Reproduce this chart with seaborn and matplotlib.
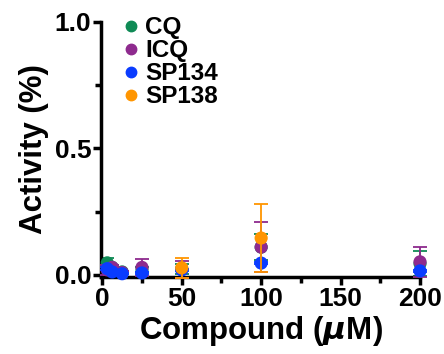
import numpy as np
import pandas as pd
import matplotlib
matplotlib.use("Agg")
import matplotlib.pyplot as plt
import seaborn as sns

conc = [3.125, 6.25, 12.5, 25, 50, 100, 200]
series_names = ["CQ", "ICQ", "SP134", "SP138"]
cq_mean = [0.048, 0.030, 0.012, 0.020, 0.025, 0.110, 0.045]
cq_err = [0.018, 0.010, 0.005, 0.010, 0.020, 0.050, 0.050]
icq_mean = [0.020, 0.030, 0.010, 0.030, 0.022, 0.110, 0.052]
icq_err = [0.020, 0.010, 0.005, 0.033, 0.033, 0.100, 0.060]
sp134_mean = [0.025, 0.012, 0.005, 0.008, 0.020, 0.047, 0.016]
sp134_err = [0.005, 0.004, 0.003, 0.003, 0.005, 0.005, 0.005]
sp138_mean = [np.nan, np.nan, np.nan, np.nan, 0.028, 0.146, np.nan]
sp138_err = [np.nan, np.nan, np.nan, np.nan, 0.040, 0.135, np.nan]
colors = ["#0f8a55", "#8e2a8e", "#0a3cff", "#ff9500"]

means = [cq_mean, icq_mean, sp134_mean, sp138_mean]
errs = [cq_err, icq_err, sp134_err, sp138_err]
rows = []
for name, m, e in zip(series_names, means, errs):
    for x, mv, ev in zip(conc, m, e):
        rows.append({"Compound": x, "Activity": mv, "err": ev, "Series": name})
df = pd.DataFrame(rows).dropna()

sns.set_style("ticks")
plt.rcParams["font.family"] = ["Liberation Sans", "DejaVu Sans"]
plt.rcParams["font.weight"] = "bold"
plt.rcParams["mathtext.default"] = "regular"
plt.rcParams["text.color"] = "black"
plt.rcParams["axes.labelcolor"] = "black"
plt.rcParams["xtick.color"] = "black"
plt.rcParams["ytick.color"] = "black"
plt.rcParams["axes.edgecolor"] = "black"

fig = plt.figure(figsize=(4.44, 3.54), dpi=100)
ax = fig.add_axes([0.2275, 0.2175, 0.7185, 0.7205])

palette = dict(zip(series_names, colors))
for i, name in enumerate(series_names):
    sub = df[df["Series"] == name]
    ax.errorbar(sub["Compound"], sub["Activity"], yerr=sub["err"], fmt="none",
                ecolor=palette[name], elinewidth=1.3, capsize=5, capthick=1.3,
                zorder=2 + i * 2, clip_on=False)
    sns.scatterplot(data=sub, x="Compound", y="Activity", color=palette[name],
                    s=90, edgecolor="none", linewidth=0, ax=ax, label=name,
                    zorder=3 + i * 2, legend=False, clip_on=False)

handles = [plt.Line2D([], [], marker="o", color=c, linestyle="none", markersize=7.5)
           for c in colors]
leg = ax.legend(handles, series_names, loc="upper left", bbox_to_anchor=(0.025, 1.06),
                frameon=False, handletextpad=0.1, labelspacing=0.0,
                handlelength=1.0, borderaxespad=0,
                prop={"family": "Liberation Sans", "weight": "bold", "size": 17.5})

ax.set_xlim(-0.8, 200)
ax.set_ylim(-0.008, 1.0)
ax.set_xticks([0, 50, 100, 150, 200])
ax.set_xticks([25, 75, 125, 175], minor=True)
ax.set_yticks([0.0, 0.5, 1.0])
ax.set_yticks([0.25, 0.75], minor=True)
ax.set_yticklabels(["0.0", "0.5", "1.0"])
for sp in ["top", "right"]:
    ax.spines[sp].set_visible(False)
for sp in ["left", "bottom"]:
    ax.spines[sp].set_linewidth(2.5)
    ax.spines[sp].set_color("black")
ax.tick_params(axis="both", which="major", length=6, width=2.5, labelsize=19, pad=1,
               colors="black")
ax.tick_params(axis="both", which="minor", length=4, width=2.5, colors="black")
for lab in ax.get_xticklabels() + ax.get_yticklabels():
    lab.set_fontweight("bold")

ax.set_xlabel("Compound ($\\mathit{\\mu}$M)", fontsize=22.5, fontweight="bold", labelpad=2,
              color="black")
ax.set_ylabel("Activity (%)", fontsize=22.5, fontweight="bold", labelpad=4, color="black")

fig.savefig("out.png", dpi=100)
